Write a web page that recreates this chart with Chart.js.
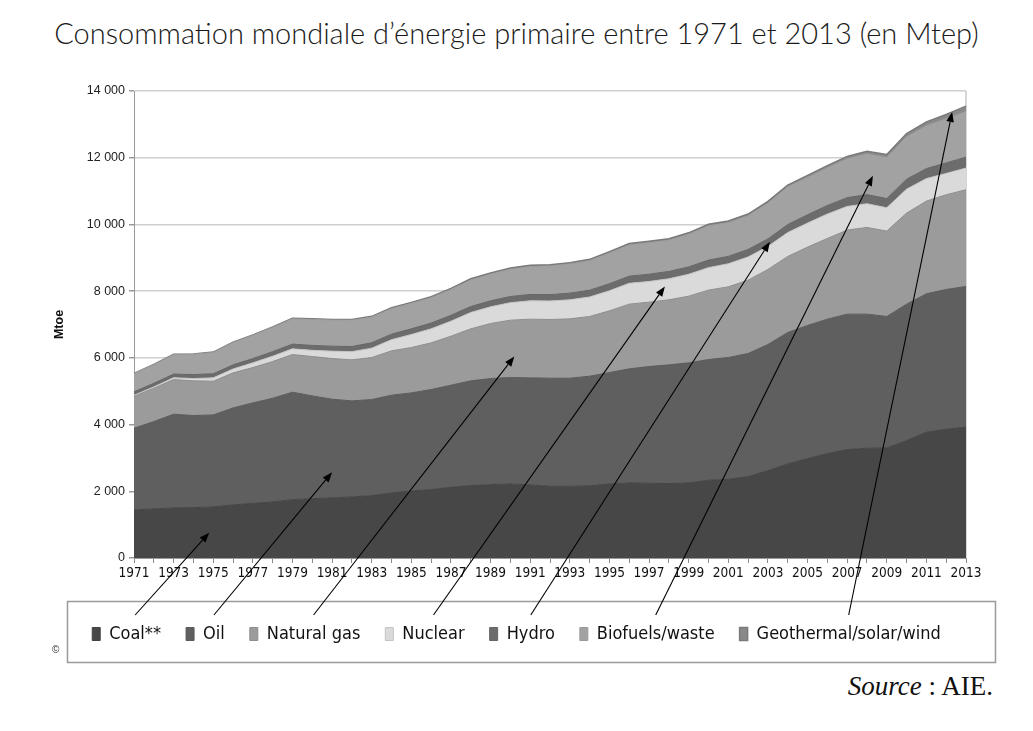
<!DOCTYPE html>
<html>
<head>
<meta charset="utf-8">
<script src="https://cdn.jsdelivr.net/npm/chart.js@4.4.0/dist/chart.umd.min.js"></script>
<style>
html,body{margin:0;padding:0;background:#fff;width:1033px;height:731px;overflow:hidden;}
#title{position:absolute;left:0;top:18px;width:1033px;text-align:center;font-family:Lato,'Open Sans',sans-serif;font-weight:300;font-size:29px;line-height:1;color:#1a1a1a;white-space:nowrap;}
#wrap{position:absolute;left:0;top:78px;width:1033px;height:592px;}
#src{position:absolute;right:40px;top:673px;font-family:'Liberation Serif','DejaVu Serif',serif;font-size:27px;line-height:1;color:#111;white-space:nowrap;}
#copy{position:absolute;left:52px;top:644px;font-family:'Liberation Sans',Arial,sans-serif;font-size:10px;color:#333;}
</style>
</head>
<body>
<div id="title">Consommation mondiale d’énergie primaire entre 1971 et 2013 (en Mtep)</div>
<div id="wrap"><canvas id="c"></canvas></div>
<div id="copy">©</div>
<div id="src"><i>Source</i> : AIE.</div>
<script>
const years = ['1971','1972','1973','1974','1975','1976','1977','1978','1979','1980','1981','1982','1983','1984','1985','1986','1987','1988','1989','1990','1991','1992','1993','1994','1995','1996','1997','1998','1999','2000','2001','2002','2003','2004','2005','2006','2007','2008','2009','2010','2011','2012','2013'];
const seriesNames = ['Coal**','Oil','Natural gas','Nuclear','Hydro','Biofuels/waste','Geothermal/solar/wind'];
const coal = [1440,1470,1500,1510,1530,1590,1640,1680,1750,1780,1800,1830,1870,1950,2010,2050,2120,2170,2200,2220,2190,2150,2150,2160,2220,2250,2240,2230,2250,2330,2360,2440,2620,2820,2980,3130,3250,3290,3300,3520,3770,3860,3920];
const oil = [2450,2620,2810,2760,2760,2910,3010,3110,3220,3080,2960,2880,2880,2930,2940,3000,3060,3140,3180,3190,3210,3240,3240,3290,3340,3420,3500,3560,3600,3620,3650,3690,3780,3940,3990,4030,4060,4020,3940,4090,4150,4190,4220];
const gas = [960,1000,1040,1040,1010,1050,1060,1100,1130,1180,1220,1230,1260,1330,1360,1400,1470,1560,1650,1720,1760,1760,1780,1790,1850,1940,1930,1950,2000,2080,2120,2200,2250,2280,2350,2420,2520,2600,2560,2730,2780,2840,2900];
const nuclear = [29,40,53,70,100,115,140,160,170,186,220,245,280,335,390,420,450,490,500,525,550,555,570,585,600,625,620,630,655,675,690,695,690,715,720,730,710,710,700,718,674,640,650];
const hydro = [104,108,110,120,123,125,128,136,142,147,150,155,162,166,170,173,175,180,180,184,190,190,200,202,212,215,218,220,222,225,222,225,226,240,250,258,262,274,275,296,300,315,326];
const biofuels = [545,560,590,610,640,670,700,730,760,780,785,790,770,765,765,760,775,795,800,820,835,860,875,885,920,935,945,935,975,1030,1010,1010,1070,1130,1120,1130,1170,1220,1235,1270,1285,1320,1370];
const geothermal = [6,7,8,9,10,11,12,13,14,16,18,20,23,26,29,31,33,35,36,37,38,39,40,41,42,43,44,45,46,47,49,51,53,56,59,64,69,77,86,99,115,135,160];
const yTicks = [0,2000,4000,6000,8000,10000,12000,14000];
// arrow annotations: target year and value for each legend entry
const arrowYears = [1974.8,1981.0,1990.2,1997.8,2003.1,2008.3,2012.3];
const arrowValues = [760,2570,6040,8140,9480,11460,13370];

const fills = ['#474747','#5f5f5f','#9b9b9b','#dadada','#6c6c6c','#a2a2a2','#898989'];
const lines = ['#444444','#5a5a5a','#8e8e8e','#c4c4c4','#656565','#9a9a9a','#7a7a7a'];
const allSeries = [coal,oil,gas,nuclear,hydro,biofuels,geothermal];

const datasets = allSeries.map((d,i)=>({
  label: seriesNames[i],
  data: d,
  yAxisID: 'y',
  backgroundColor: fills[i],
  borderColor: lines[i],
  borderWidth: i===6 ? 1.5 : 1,
  fill: i===0 ? 'origin' : '-1',
  pointRadius: 0,
  tension: 0
}));

const narrow = "'Liberation Sans Narrow','DejaVu Sans Condensed','Liberation Sans',sans-serif";
const LEG_FONT = 18, LEG_BOX = 8, LEG_PAD = 25;

const decor = {
  id:'decor',
  beforeDatasetsDraw(chart){
    const {ctx, chartArea:a} = chart;
    ctx.save();
    ctx.strokeStyle = '#c8c8c8';
    ctx.lineWidth = 1.5;
    ctx.beginPath();
    ctx.moveTo(a.right, a.top); ctx.lineTo(a.right, a.bottom);
    ctx.stroke();
    ctx.restore();
  },
  afterDraw(chart){
    const {ctx} = chart;
    const lg = chart.legend;
    const hb0 = lg.legendHitBoxes[0];
    ctx.save();
    // legend frame
    ctx.strokeStyle = '#9a9a9a';
    ctx.lineWidth = 1.5;
    ctx.strokeRect(67.5, Math.round(hb0.top) - 23.5, 928, 61);
    // arrows
    const xs = chart.scales.x, ys = chart.scales.y;
    ctx.strokeStyle = '#000'; ctx.fillStyle = '#000'; ctx.lineWidth = 1.1;
    lg.legendHitBoxes.forEach((hb,i)=>{
      const sx = hb.left + LEG_BOX + LEG_FONT/2 + (hb.width - LEG_BOX - LEG_FONT/2)/2;
      const sy = hb.top - 10;
      const tx = xs.getPixelForValue(arrowYears[i] - 1971);
      const ty = ys.getPixelForValue(arrowValues[i]);
      const ang = Math.atan2(ty - sy, tx - sx);
      const L = 10, W = 3.8;
      const bx = tx - L*Math.cos(ang), by = ty - L*Math.sin(ang);
      ctx.beginPath(); ctx.moveTo(sx, sy); ctx.lineTo(bx, by); ctx.stroke();
      ctx.beginPath();
      ctx.moveTo(tx, ty);
      ctx.lineTo(bx - W*Math.sin(ang), by + W*Math.cos(ang));
      ctx.lineTo(bx + W*Math.sin(ang), by - W*Math.cos(ang));
      ctx.closePath(); ctx.fill();
    });
    ctx.restore();
  }
};

new Chart(document.getElementById('c'), {
  type: 'line',
  data: { labels: years, datasets },
  plugins: [decor],
  options: {
    responsive: true,
    maintainAspectRatio: false,
    animation: false,
    events: [],
    layout: { padding: { top: 13, right: 0, bottom: 17, left: 0 } },
    plugins: {
      legend: {
        position: 'bottom',
        labels: {
          boxWidth: LEG_BOX, boxHeight: 13, padding: LEG_PAD, color: '#111',
          font: { family: narrow, size: LEG_FONT }
        }
      },
      tooltip: { enabled: false },
      title: { display: false }
    },
    scales: {
      x: {
        type: 'category',
        offset: false,
        grid: { display: true, drawOnChartArea: false, drawTicks: true, tickLength: 5, color: '#8a8a8a' },
        border: { display: true, color: '#9a9a9a' },
        ticks: {
          autoSkip: false, maxRotation: 0, minRotation: 0, padding: 2, color: '#111',
          font: { family: narrow, size: 13.5 },
          callback: (v, i) => (i % 2 === 0 ? years[i] : '')
        },
        afterFit: s => { s.height = 42; }
      },
      y: {
        stacked: true,
        min: 0, max: 14000,
        afterBuildTicks: s => { s.ticks = yTicks.map(v => ({ value: v })); },
        grid: { color: '#cfcfcf', lineWidth: 1.5, tickLength: 5, tickColor: '#9a9a9a' },
        border: { display: true, color: '#9a9a9a' },
        ticks: {
          padding: 4, color: '#222',
          font: { family: "'Liberation Sans',Arial,sans-serif", size: 12.5 },
          callback: v => String(v).replace(/\B(?=(\d{3})+(?!\d))/g, ' ')
        },
        title: {
          display: true, text: 'Mtoe', color: '#111',
          font: { family: "'Liberation Sans',Arial,sans-serif", size: 12.5, weight: 'bold' },
          padding: { top: 52, bottom: 0 }
        },
        afterFit: s => { s.width = 134; }
      },
      yRight: {
        position: 'right',
        display: true,
        min: 0, max: 14000,
        grid: { display: false, drawOnChartArea: false },
        border: { display: false },
        ticks: { display: false },
        afterFit: s => { s.width = 67; }
      }
    }
  }
});
</script>
</body>
</html>
